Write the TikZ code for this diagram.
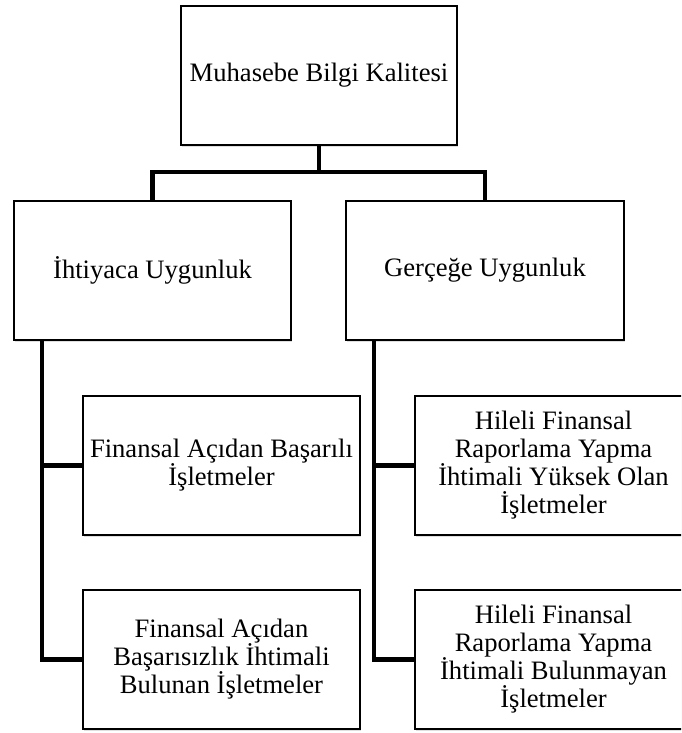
\documentclass[tikz,border=0pt]{standalone}
\usepackage{fontspec}
\setmainfont{Liberation Serif}
\usetikzlibrary{shadows}
\begin{document}
\begin{tikzpicture}[x=1pt,y=-1pt,
  box/.style={draw=black, line width=1.3pt, fill=white, rectangle,
    minimum width=277pt, minimum height=139pt, inner sep=2pt, outer sep=0pt,
    align=center, font=\fontsize{26.6}{28}\selectfont,
    drop shadow={shadow xshift=0.8pt, shadow yshift=-2pt, opacity=0.25}},
  conn/.style={line width=4.8pt, line cap=butt, line join=miter}]
\clip (0,0) rectangle (681,733);
\fill[white] (0,0) rectangle (681,733);
\node[box, minimum width=276pt] (top) at (319,75.5) {Muhasebe Bilgi Kalitesi};
\node[box] (L) at (152.5,270.5) {İhtiyaca Uygunluk};
\node[box, minimum width=278pt] (R) at (485,270.5) {Gerçeğe Uygunluk};
\node[box] (L1) at (221.5,465.5) {Finansal Açıdan Başarılı\\İşletmeler};
\node[box] (L2) at (221.5,659.5) {Finansal Açıdan\\Başarısızlık İhtimali\\Bulunan İşletmeler};
\node[box] (R1) at (553.5,465.5) {Hileli Finansal\\Raporlama Yapma\\İhtimali Yüksek Olan\\İşletmeler};
\node[box] (R2) at (553.5,659.5) {Hileli Finansal\\Raporlama Yapma\\İhtimali Bulunmayan\\İşletmeler};
\coordinate (lv) at ([xshift=28pt]L.south west);
\coordinate (rv) at ([xshift=28pt]R.south west);
\draw[conn] (top.south) -- ++(0,27) -| (L.north);
\draw[conn] (top.south) -- ++(0,27) -| (R.north);
\draw[conn] (lv) |- (L1.west);
\draw[conn] (lv) |- (L2.west);
\draw[conn] (rv) |- (R1.west);
\draw[conn] (rv) |- (R2.west);
\end{tikzpicture}
\end{document}
